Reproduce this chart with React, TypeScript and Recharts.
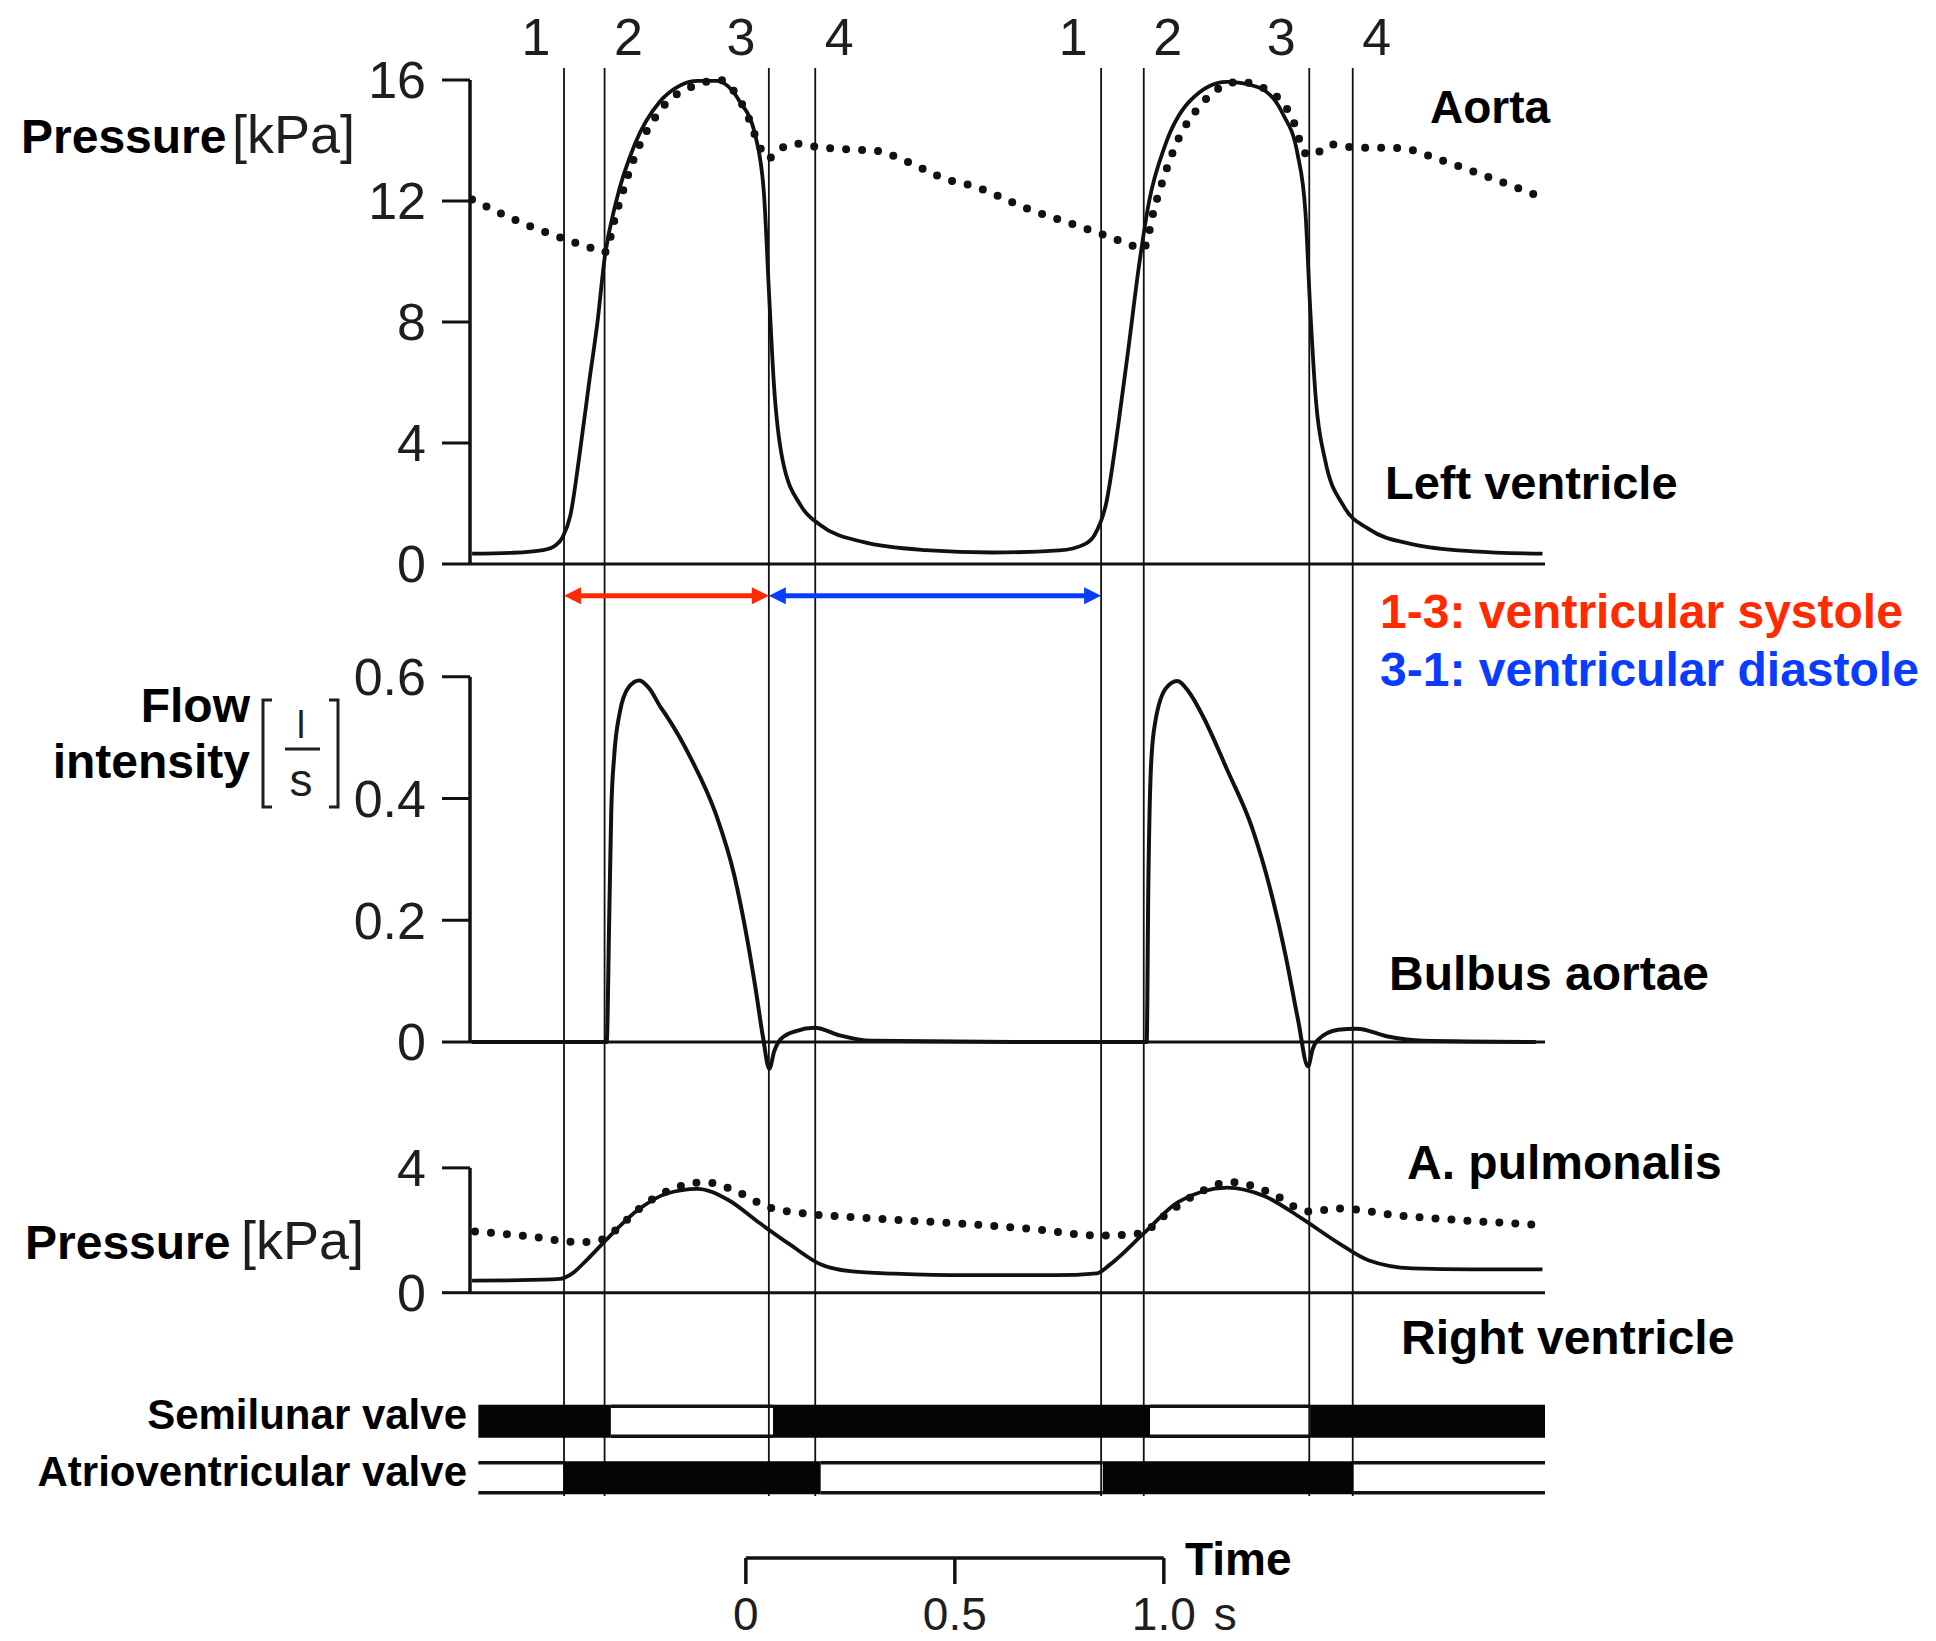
import React from 'react';
import { LineChart, Line, XAxis, YAxis, ReferenceLine, BarChart, Bar } from 'recharts';

// ---------------- data (time in s, measured from the pressure axis) ----------------
const T_END = 2.572;
const eventTimes = [0.225, 0.322, 0.715, 0.826, 1.51, 1.612, 2.008, 2.112];
const eventLabels = ['1', '2', '3', '4', '1', '2', '3', '4'];

const lvTime = [0.005, 0.1, 0.175, 0.205, 0.222, 0.24, 0.262, 0.285, 0.305, 0.322, 0.35, 0.395, 0.455, 0.5, 0.545, 0.59, 0.645, 0.682, 0.703, 0.716, 0.727, 0.748, 0.792, 0.838, 0.94, 1.09, 1.25, 1.41, 1.47, 1.494, 1.522, 1.552, 1.576, 1.6, 1.625, 1.662, 1.722, 1.81, 1.884, 1.944, 1.98, 1.999, 2.01, 2.024, 2.046, 2.09, 2.15, 2.253, 2.4, 2.566];
const lvPressure = [0.34, 0.37, 0.46, 0.62, 0.9, 1.6, 3.6, 6.0, 8.0, 10.1, 12.0, 13.9, 15.3, 15.8, 15.97, 15.97, 15.3, 14.2, 12.3, 8.8, 5.97, 3.43, 1.92, 1.29, 0.73, 0.46, 0.38, 0.45, 0.65, 0.95, 2.0, 4.7, 7.2, 9.8, 12.0, 13.8, 15.3, 15.94, 15.77, 14.9, 13.55, 11.6, 8.5, 5.4, 3.43, 1.92, 1.16, 0.66, 0.42, 0.34];

const aortaTime = [0.005, 0.057, 0.146, 0.225, 0.3, 0.322, 0.35, 0.395, 0.455, 0.545, 0.6, 0.633, 0.665, 0.69, 0.712, 0.745, 0.78, 0.825, 0.914, 0.972, 1.046, 1.15, 1.191, 1.339, 1.5, 1.59, 1.61, 1.64, 1.69, 1.75, 1.84, 1.93, 1.974, 1.996, 2.012, 2.062, 2.115, 2.225, 2.313, 2.416, 2.55];
const aortaPressure = [12.05, 11.7, 11.15, 10.75, 10.4, 10.3, 11.6, 13.5, 15.0, 15.85, 16.0, 15.6, 14.8, 13.9, 13.4, 13.75, 13.9, 13.8, 13.7, 13.66, 13.3, 12.67, 12.54, 11.72, 10.96, 10.5, 10.4, 11.9, 13.9, 15.2, 15.94, 15.45, 14.5, 13.6, 13.5, 13.87, 13.77, 13.75, 13.4, 12.9, 12.2];

const flowTime = [0.005, 0.327, 0.333, 0.338, 0.345, 0.358, 0.38, 0.405, 0.43, 0.456, 0.471, 0.53, 0.589, 0.633, 0.663, 0.683, 0.701, 0.716, 0.728, 0.744, 0.78, 0.825, 0.884, 0.96, 1.3, 1.619, 1.623, 1.628, 1.636, 1.664, 1.692, 1.72, 1.753, 1.811, 1.871, 1.915, 1.952, 1.981, 2.005, 2.016, 2.028, 2.077, 2.122, 2.196, 2.28, 2.55];
const flowValue = [0, 0, 0.2, 0.38, 0.47, 0.54, 0.583, 0.594, 0.58, 0.55, 0.535, 0.464, 0.373, 0.272, 0.17, 0.089, 0.008, -0.044, -0.015, 0.005, 0.018, 0.0235, 0.011, 0.002, 0, 0, 0.26, 0.43, 0.51, 0.58, 0.593, 0.575, 0.536, 0.448, 0.352, 0.25, 0.14, 0.037, -0.04, -0.012, 0.003, 0.02, 0.022, 0.009, 0.002, 0];

const rvTime = [0.005, 0.12, 0.215, 0.245, 0.278, 0.33, 0.397, 0.471, 0.544, 0.618, 0.691, 0.766, 0.84, 0.914, 1.017, 1.191, 1.4, 1.5, 1.531, 1.612, 1.694, 1.811, 1.9, 1.988, 2.077, 2.151, 2.254, 2.4, 2.566];
const rvPressure = [0.39, 0.4, 0.44, 0.62, 1.03, 1.75, 2.6, 3.18, 3.33, 2.97, 2.25, 1.54, 0.9, 0.68, 0.61, 0.56, 0.56, 0.62, 0.9, 1.9, 2.9, 3.37, 3.1, 2.4, 1.6, 1.03, 0.78, 0.75, 0.75];

const paTime = [0.012, 0.133, 0.266, 0.32, 0.36, 0.42, 0.49, 0.56, 0.645, 0.7, 0.72, 0.79, 0.94, 1.191, 1.339, 1.51, 1.605, 1.66, 1.73, 1.82, 1.93, 1.99, 2.01, 2.077, 2.225, 2.374, 2.55];
const paPressure = [1.96, 1.82, 1.62, 1.72, 2.15, 2.85, 3.35, 3.54, 3.2, 2.82, 2.72, 2.56, 2.4, 2.2, 2.05, 1.83, 1.9, 2.45, 3.1, 3.54, 3.1, 2.65, 2.6, 2.7, 2.47, 2.32, 2.18];

const pressureTicks = [0, 4, 8, 12, 16];
const flowTicks = [0, 0.2, 0.4, 0.6];
const flowTickLabels = ['0', '0.2', '0.4', '0.6'];
const pulmTicks = [0, 4];

const valveNames = ['Semilunar valve', 'Atrioventricular valve'];
const semilunarTimes = [0.02, 0.337, 0.725, 1.627, 2.01, 2.572];
const avTimes = [0.02, 0.223, 0.839, 1.514, 2.113, 2.572];
const valveStartClosed = [true, false];

const timeTicks = [0, 0.5, 1];
const timeTickLabels = ['0', '0.5', '1.0'];
const timeUnit = 's';
const TIME_ZERO = 0.66;

const ARROW_LEVEL = -1.05;

// ---------------- helpers ----------------
const zip = (ts: number[], vs: number[]) => ts.map((t, i) => ({ t, v: vs[i] }));
const lvData = zip(lvTime, lvPressure);
const aortaData = zip(aortaTime, aortaPressure);
const flowData = zip(flowTime, flowValue);
const rvData = zip(rvTime, rvPressure);
const paData = zip(paTime, paPressure);

const valveSeries = [semilunarTimes, avTimes];
const valveRows = valveNames.map((name, r) => {
  const times = valveSeries[r];
  const row: any = { name, d0: times[0], c0: 'lead' };
  for (let k = 1; k < times.length; k++) {
    row['d' + k] = times[k] - times[k - 1];
    const closed = valveStartClosed[r] ? k % 2 === 1 : k % 2 === 0;
    row['c' + k] = closed ? 'closed' : 'open';
  }
  return row;
});
const segIndex = semilunarTimes.map((_, i) => i);

const INK = '#111';
const NUM_FONT = "'Liberation Sans', Arial, 'DejaVu Sans', sans-serif";
const BOLD_FONT = "'Liberation Sans', Arial, Helvetica, sans-serif";
const numTick = { fontSize: 52, fill: '#1e1e1e', fontFamily: NUM_FONT };

const W = 1936;
const PLOT_LEFT = 470;
const RIGHT_M = 391;

const makeArrow = (color: string) => (p: any) => {
  const { x1, y1, x2 } = p;
  const a = Math.min(x1, x2);
  const b = Math.max(x1, x2);
  const h = 17;
  const w = 8.5;
  return (
    <g>
      <line x1={a + h - 3} y1={y1} x2={b - h + 3} y2={y1} stroke={color} strokeWidth={5} />
      <polygon points={`${a},${y1} ${a + h},${y1 - w} ${a + h},${y1 + w}`} fill={color} />
      <polygon points={`${b},${y1} ${b - h},${y1 - w} ${b - h},${y1 + w}`} fill={color} />
    </g>
  );
};

const EventTick = (props: any) => {
  const { x, y, payload } = props;
  const i = eventTimes.indexOf(payload.value);
  const dx = i % 2 === 0 ? -28 : 24;
  return (
    <text x={x + dx} y={y} textAnchor="middle" fontSize={52} fill="#1e1e1e" fontFamily={NUM_FONT}>
      {eventLabels[i]}
    </text>
  );
};

const TimeTick = (props: any) => {
  const { x, y, payload } = props;
  const i = timeTicks.indexOf(payload.value);
  const last = i === timeTicks.length - 1;
  return (
    <g>
      <text x={x} y={y + 29} textAnchor="middle" fontSize={46} fill="#1e1e1e" fontFamily={NUM_FONT}>
        {timeTickLabels[i]}
      </text>
      {last ? (
        <text x={x + 50} y={y + 29} textAnchor="start" fontSize={46} fill="#1e1e1e" fontFamily={NUM_FONT}>
          {timeUnit}
        </text>
      ) : null}
    </g>
  );
};

const ValveTick = (props: any) => {
  const { x, y, payload } = props;
  return (
    <text x={x} y={y + 8} textAnchor="end" fontSize={42} fontWeight={700} fill="#000" fontFamily={BOLD_FONT}>
      {payload.value}
    </text>
  );
};

const valveShape = (i: number) => (p: any) => {
  const state = p.payload ? p.payload['c' + i] : 'lead';
  const { x, y, width, height } = p;
  if (state === 'lead' || !(width > 0)) return <g />;
  if (state === 'closed') return <rect x={x} y={y} width={width} height={height} fill="#050505" />;
  return (
    <g>
      <line x1={x} y1={y + 1.5} x2={x + width} y2={y + 1.5} stroke={INK} strokeWidth={3.5} />
      <line x1={x} y1={y + height - 1.5} x2={x + width} y2={y + height - 1.5} stroke={INK} strokeWidth={3.5} />
    </g>
  );
};

const solid = { type: 'monotone' as const, dataKey: 'v', stroke: INK, strokeWidth: 3.8, dot: false, isAnimationActive: false, activeDot: false };
const dotted = { type: 'monotone' as const, dataKey: 'v', stroke: INK, strokeWidth: 8, strokeDasharray: '0 16', strokeLinecap: 'round' as const, dot: false, isAnimationActive: false, activeDot: false };
const hiddenLine = { type: 'linear' as const, dataKey: 'y', stroke: 'none', dot: false, isAnimationActive: false, activeDot: false };

const Labels = () => {
  const b = { fontFamily: BOLD_FONT, fontWeight: 700, fill: '#000' } as any;
  const n = { fontFamily: NUM_FONT, fill: '#1e1e1e' } as any;
  return (
    <svg width={W} height={1641} style={{ position: 'absolute', left: 0, top: 0, pointerEvents: 'none' }}>
      <text x={21} y={153} fontSize={48} {...b}>Pressure</text>
      <text x={232} y={153} fontSize={54} {...n}>[kPa]</text>
      <text x={1430} y={123} fontSize={46} {...b}>Aorta</text>
      <text x={1385} y={499} fontSize={47} {...b}>Left ventricle</text>
      <text x={1380} y={628} fontSize={48} {...b} fill="#ff2a00">1-3: ventricular systole</text>
      <text x={1380} y={686} fontSize={48} {...b} fill="#0a3cff">3-1: ventricular diastole</text>
      <text x={250} y={722} fontSize={48} textAnchor="end" {...b}>Flow</text>
      <text x={250} y={778} fontSize={48} textAnchor="end" {...b}>intensity</text>
      <path d="M 272 700 H 263 V 807 H 272" stroke="#1e1e1e" strokeWidth={3} fill="none" />
      <path d="M 329 700 H 338 V 807 H 329" stroke="#1e1e1e" strokeWidth={3} fill="none" />
      <text x={301} y={738} fontSize={38} textAnchor="middle" {...n}>l</text>
      <line x1={285} y1={749} x2={320} y2={749} stroke="#1e1e1e" strokeWidth={3} />
      <text x={301} y={796} fontSize={46} textAnchor="middle" {...n}>s</text>
      <text x={1389} y={990} fontSize={48} {...b}>Bulbus aortae</text>
      <text x={1407} y={1179} fontSize={48} {...b}>A. pulmonalis</text>
      <text x={25} y={1259} fontSize={48} {...b}>Pressure</text>
      <text x={241} y={1259} fontSize={54} {...n}>[kPa]</text>
      <text x={1401} y={1354} fontSize={48} {...b}>Right ventricle</text>
      <text x={1185} y={1575} fontSize={46} {...b}>Time</text>
    </svg>
  );
};

export default function App() {
  return (
    <div style={{ position: 'absolute', left: 0, top: 0, width: W, height: 1641, background: '#fff', overflow: 'hidden' }}>
      {/* event lines spanning all panels */}
      <div style={{ position: 'absolute', left: 0, top: 0 }}>
        <LineChart width={W} height={1500} data={eventTimes.map((t) => ({ t, y: 0.5 }))} margin={{ top: 0, right: RIGHT_M, bottom: 4, left: PLOT_LEFT }}>
          <XAxis type="number" dataKey="t" orientation="top" domain={[0, T_END]} ticks={eventTimes} interval={0} height={68} axisLine={false} tickLine={false} tickSize={0} tickMargin={13} tick={<EventTick />} allowDataOverflow />
          <YAxis hide type="number" domain={[0, 1]} />
          <Line {...hiddenLine} />
          {eventTimes.map((t, i) => (
            <ReferenceLine key={i} x={t} stroke={INK} strokeWidth={1.8} />
          ))}
        </LineChart>
      </div>

      {/* aorta / left ventricle pressure */}
      <div style={{ position: 'absolute', left: 0, top: 0 }}>
        <LineChart width={W} height={624.5} margin={{ top: 67.9, right: RIGHT_M, bottom: 0, left: 0 }}>
          <XAxis type="number" dataKey="t" domain={[0, T_END]} hide allowDataOverflow />
          <YAxis type="number" domain={[-2, 16.4]} ticks={pressureTicks} interval={0} width={PLOT_LEFT} axisLine={false} tickLine={{ stroke: INK, strokeWidth: 3 }} tickSize={28} tickMargin={16} tick={numTick} allowDataOverflow />
          <ReferenceLine y={0} stroke={INK} strokeWidth={3} />
          <ReferenceLine segment={[{ x: 0, y: 0 }, { x: 0, y: pressureTicks[pressureTicks.length - 1] }]} stroke={INK} strokeWidth={3.5} />
          <Line data={lvData} {...solid} />
          <Line data={aortaData} {...dotted} />
          <ReferenceLine segment={[{ x: eventTimes[0], y: ARROW_LEVEL }, { x: eventTimes[2], y: ARROW_LEVEL }]} shape={makeArrow('#ff2a00')} />
          <ReferenceLine segment={[{ x: eventTimes[2], y: ARROW_LEVEL }, { x: eventTimes[4], y: ARROW_LEVEL }]} shape={makeArrow('#0a3cff')} />
        </LineChart>
      </div>

      {/* flow */}
      <div style={{ position: 'absolute', left: 0, top: 640 }}>
        <LineChart width={W} height={470} margin={{ top: 6.3, right: RIGHT_M, bottom: 7.1, left: 0 }}>
          <XAxis type="number" dataKey="t" domain={[0, T_END]} hide allowDataOverflow />
          <YAxis type="number" domain={[-0.1, 0.65]} ticks={flowTicks} interval={0} width={PLOT_LEFT} axisLine={false} tickLine={{ stroke: INK, strokeWidth: 3 }} tickSize={28} tickMargin={16} tick={numTick} tickFormatter={(v: number) => flowTickLabels[flowTicks.indexOf(v)] ?? String(v)} allowDataOverflow />
          <ReferenceLine y={0} stroke={INK} strokeWidth={2.8} />
          <ReferenceLine segment={[{ x: 0, y: 0 }, { x: 0, y: flowTicks[flowTicks.length - 1] }]} stroke={INK} strokeWidth={3.5} />
          <Line data={flowData} {...solid} strokeWidth={4} />
        </LineChart>
      </div>

      {/* pulmonary artery / right ventricle pressure */}
      <div style={{ position: 'absolute', left: 0, top: 1140 }}>
        <LineChart width={W} height={200} margin={{ top: 15.4, right: RIGHT_M, bottom: 16.1, left: 0 }}>
          <XAxis type="number" dataKey="t" domain={[0, T_END]} hide allowDataOverflow />
          <YAxis type="number" domain={[-1, 4.4]} ticks={pulmTicks} interval={0} width={PLOT_LEFT} axisLine={false} tickLine={{ stroke: INK, strokeWidth: 3 }} tickSize={28} tickMargin={16} tick={numTick} allowDataOverflow />
          <ReferenceLine y={0} stroke={INK} strokeWidth={3} />
          <ReferenceLine segment={[{ x: 0, y: 0 }, { x: 0, y: pulmTicks[pulmTicks.length - 1] }]} stroke={INK} strokeWidth={3.5} />
          <Line data={rvData} {...solid} />
          <Line data={paData} {...dotted} />
        </LineChart>
      </div>

      {/* valves */}
      <div style={{ position: 'absolute', left: 0, top: 1380 }}>
        <BarChart layout="vertical" width={W} height={140} data={valveRows} barSize={33} margin={{ top: 12.75, right: RIGHT_M, bottom: 14.25, left: 0 }}>
          <XAxis type="number" domain={[0, T_END]} hide allowDataOverflow />
          <YAxis type="category" dataKey="name" width={PLOT_LEFT} axisLine={false} tickLine={false} tickSize={0} tickMargin={3} tick={<ValveTick />} interval={0} />
          {segIndex.map((i) => (
            <Bar key={i} dataKey={'d' + i} stackId="valve" isAnimationActive={false} shape={valveShape(i)} />
          ))}
        </BarChart>
      </div>

      {/* time scale */}
      <div style={{ position: 'absolute', left: 0, top: 1500 }}>
        <LineChart width={W} height={141} data={timeTicks.map((t) => ({ t, y: 0.5 }))} margin={{ top: 20, right: RIGHT_M, bottom: 0, left: PLOT_LEFT }}>
          <XAxis type="number" dataKey="t" domain={[-TIME_ZERO, T_END - TIME_ZERO]} ticks={timeTicks} interval={0} height={83} axisLine={false} tickLine={{ stroke: INK, strokeWidth: 3.5 }} tickSize={26} tickMargin={17} tick={<TimeTick />} allowDataOverflow />
          <YAxis hide type="number" domain={[0, 1]} />
          <Line {...hiddenLine} />
          <ReferenceLine segment={[{ x: timeTicks[0], y: 0 }, { x: timeTicks[timeTicks.length - 1], y: 0 }]} stroke={INK} strokeWidth={3.5} />
        </LineChart>
      </div>

      <Labels />
    </div>
  );
}
